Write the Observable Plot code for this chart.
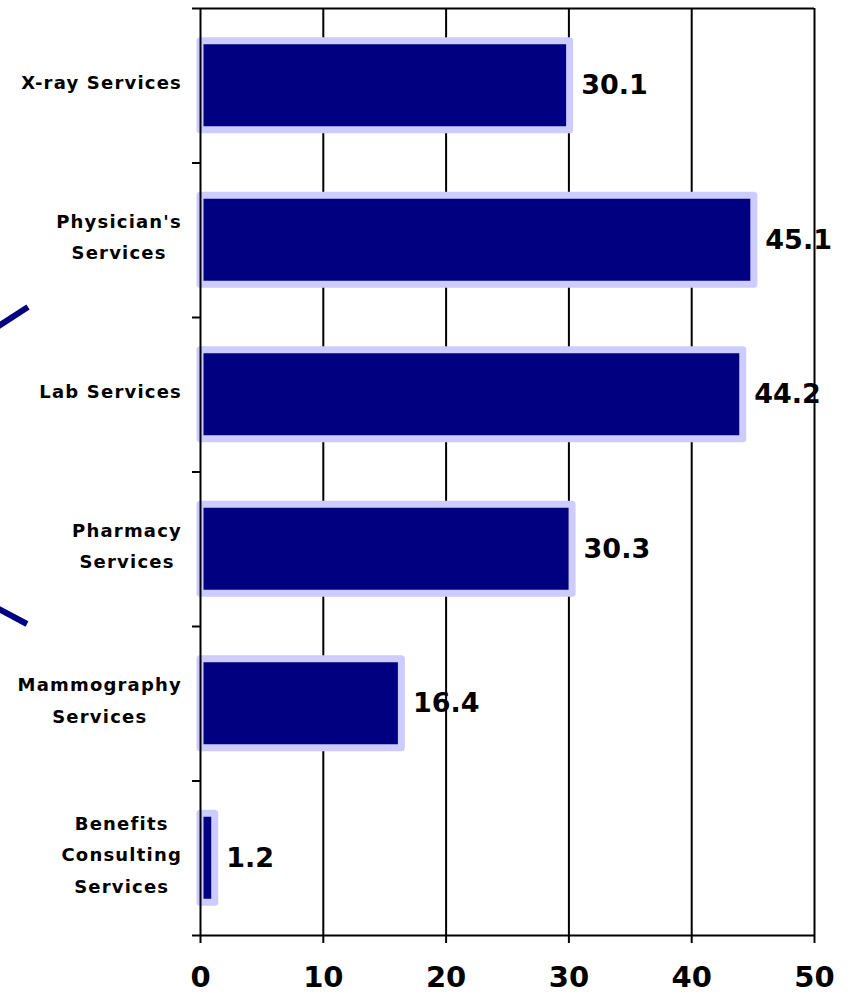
<!DOCTYPE html>
<html>
<head>
<meta charset="utf-8">
<script src="https://cdn.jsdelivr.net/npm/d3@7"></script>
<script src="https://cdn.jsdelivr.net/npm/@observablehq/plot@0.6"></script>
<style>
  html, body { margin: 0; padding: 0; background: #ffffff; }
  #chart { width: 857px; height: 995px; }
</style>
</head>
<body>
<div id="chart"></div>
<script>
// ---- data ----
const categories = [
  "X-ray Services",
  "Physician's\nServices",
  "Lab Services",
  "Pharmacy\nServices",
  "Mammography\nServices",
  "Benefits\nConsulting\nServices"
];
const values = [30.1, 45.1, 44.2, 30.3, 16.4, 1.2];
const valueLabels = ["30.1", "45.1", "44.2", "30.3", "16.4", "1.2"];
const xTicks = [0, 10, 20, 30, 40, 50];

// ---- build ----
const data = categories.map((c, i) => ({ i, category: c, value: values[i], label: valueLabels[i] }));
const bandBounds = d3.range(categories.length + 1);
const pad = 0.212;
const FONT = "'DejaVu Sans', Verdana, sans-serif";

const chart = Plot.plot({
  width: 857,
  height: 995,
  marginLeft: 200,
  marginRight: 43,
  marginTop: 8,
  marginBottom: 60,
  style: { fontFamily: FONT, background: "#ffffff", color: "#000000", overflow: "visible" },
  x: { domain: [0, 50] },
  y: { domain: [0, categories.length], reverse: true },
  marks: [
    // vertical grid lines
    Plot.ruleX(xTicks.slice(1), { y1: 0, y2: categories.length, stroke: "#000", strokeWidth: 2 }),
    // bars
    Plot.rectX(data, {
      x1: 0, x2: "value",
      y1: d => d.i + pad, y2: d => d.i + 1 - pad,
      fill: "#000080", stroke: "#ccccff", strokeWidth: 7, strokeLinejoin: "round"
    }),
    // frame: left axis line, top and bottom lines
    Plot.ruleX([0], { y1: 0, y2: categories.length, stroke: "#000", strokeWidth: 2 }),
    Plot.ruleY([0, categories.length], { x1: 0, x2: 50, stroke: "#000", strokeWidth: 2 }),
    // y ticks at band boundaries
    Plot.axisY({ ticks: bandBounds, tickSize: 8, tickFormat: () => "", strokeWidth: 2, stroke: "#000", label: null }),
    // x axis
    Plot.axisX({
      ticks: xTicks, tickSize: 8, tickPadding: 23, strokeWidth: 2, stroke: "#000",
      fontSize: 29, fontWeight: "bold", fill: "#000", label: null, tickFormat: d => String(d)
    }),
    // category labels
    Plot.text(data, {
      x: 0, y: d => d.i + 0.5, text: "category",
      textAnchor: "middle", dx: -100, dy: -7, fontSize: 18, fontWeight: "bold",
      lineHeight: 1.77, fill: "#000"
    }),
    // value labels
    Plot.text(data, {
      x: "value", y: d => d.i + 0.5, text: "label",
      textAnchor: "start", dx: 11, fontSize: 27, fontWeight: "bold", fill: "#000"
    })
  ]
});

document.getElementById("chart").appendChild(chart);

// category label group = first text mark group
const textGroups = chart.querySelectorAll('g[aria-label="text"]');
const labelGroup = textGroups[0];
if (labelGroup) {
  labelGroup.querySelectorAll("text").forEach(el => {
    el.style.letterSpacing = "1.2px";
  });
  // right-align each centered label block so its widest line ends just left of the ticks
  labelGroup.querySelectorAll("text").forEach(el => {
    const r = el.getBoundingClientRect();
    const cr = chart.getBoundingClientRect();
    const right = r.right - cr.left;
    const shift = 182 - right;
    const t = el.getAttribute("transform") || "";
    el.setAttribute("transform", `translate(${shift},0) ` + t);
  });
}

// decorative slide bracket strokes at the left edge (not data)
const deco = d3.select(chart).append("g").attr("stroke", "#000080").attr("stroke-width", 6).attr("fill", "none");
deco.append("line").attr("x1", -3).attr("y1", 327).attr("x2", 28).attr("y2", 307);
deco.append("line").attr("x1", -3).attr("y1", 608).attr("x2", 27).attr("y2", 624);
</script>
</body>
</html>
